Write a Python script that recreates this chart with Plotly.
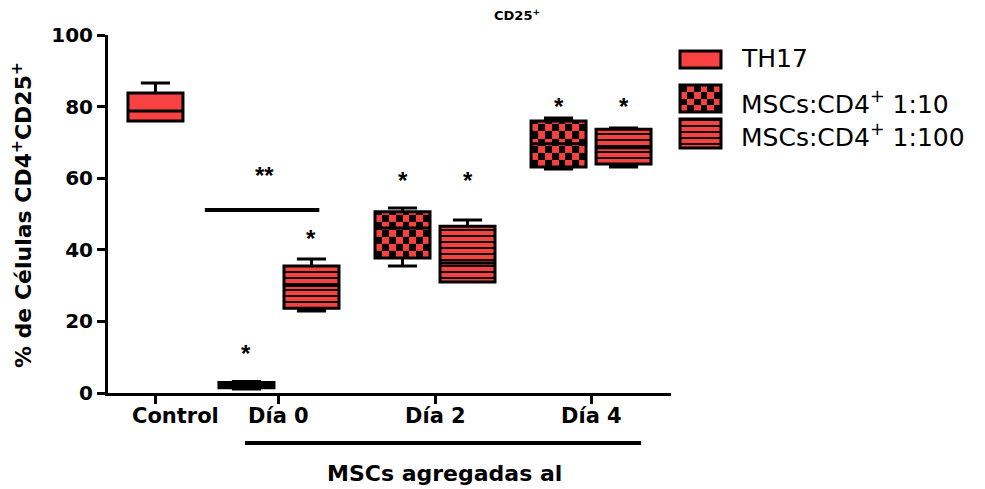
import numpy as np
import plotly.graph_objects as go

RED = "#F84141"
FONT = "DejaVu Sans"

# ---------------- data ----------------
day_labels = ["Día 0", "Día 2", "Día 4"]
day_centers = [1.9, 4.3, 6.7]
control_pos = 0.0
box_offset = 0.5
box_width = 0.846

control = dict(lf=76.0, q1=76.0, med=78.8, q3=83.8, uf=86.6)

r10_lf = [1.1, 35.5, 62.6]
r10_q1 = [1.5, 37.7, 63.1]
r10_med = [2.2, 46.1, 69.6]
r10_q3 = [2.9, 50.6, 76.0]
r10_uf = [3.2, 51.7, 76.8]

r100_lf = [22.9, 31.0, 63.1]
r100_q1 = [23.7, 31.0, 64.0]
r100_med = [30.0, 36.3, 68.5]
r100_q3 = [35.5, 46.6, 73.7]
r100_uf = [37.4, 48.3, 74.0]

star_y_r10 = [11.7, 60.0, 80.7]
star_y_r100 = [43.6, 60.0, 80.7]
sig_bar_x = [0.76, 2.52]
sig_bar_y = 51.1
sig_text_x = 1.67
sig_text_y = 61.2

pos10 = [c - box_offset for c in day_centers]
pos100 = [c + box_offset for c in day_centers]

fig = go.Figure()

# ---------------- checkerboard fills (heatmaps) ----------------
cell_y = 2.0
ncols = 8
for p, a, b in zip(pos10, r10_q1, r10_q3):
    xe = np.linspace(p - box_width / 2, p + box_width / 2, ncols + 1)
    ye = list(np.arange(a, b, cell_y))
    if b - ye[-1] > 0.05:
        ye.append(b)
    ye = np.array(ye)
    nrows = len(ye) - 1
    z = [[(i + j) % 2 for j in range(ncols)] for i in range(nrows)]
    if nrows == 1:
        z = [[0] * ncols]
    fig.add_trace(go.Heatmap(x=xe, y=ye, z=z, zmin=0, zmax=1,
                             colorscale=[[0, "black"], [1, RED]],
                             showscale=False, hoverinfo="skip"))

# legend checker swatch
lx = np.linspace(680, 721, 7)
ly = np.linspace(85, 112, 5)
fig.add_trace(go.Heatmap(x=lx, y=ly, z=[[(i + j) % 2 for j in range(6)] for i in range(4)],
                         zmin=0, zmax=1, colorscale=[[0, "black"], [1, RED]],
                         showscale=False, hoverinfo="skip", xaxis="x2", yaxis="y2"))

# ---------------- striped fills (bars with pattern) ----------------
fig.add_trace(go.Bar(
    x=pos100, base=r100_q1, y=[b - a for a, b in zip(r100_q1, r100_q3)],
    width=box_width, marker=dict(color=RED, line=dict(width=0),
                                 pattern=dict(shape="-", fgcolor="black", bgcolor=RED,
                                              size=6, solidity=0.32, fillmode="replace")),
    hoverinfo="skip", showlegend=False))

# legend swatches as bars on legend axes
fig.add_trace(go.Bar(x=[700.5], base=[51], y=[17], width=41,
                     marker=dict(color=RED, line=dict(color="black", width=3)),
                     xaxis="x2", yaxis="y2", hoverinfo="skip", showlegend=False))
fig.add_trace(go.Bar(x=[700.5], base=[85], y=[27], width=41,
                     marker=dict(color="rgba(0,0,0,0)", line=dict(color="black", width=3)),
                     xaxis="x2", yaxis="y2", hoverinfo="skip", showlegend=False))
fig.add_trace(go.Bar(x=[700.5], base=[119], y=[29], width=41,
                     marker=dict(color=RED, line=dict(color="black", width=3),
                                 pattern=dict(shape="-", fgcolor="black", bgcolor=RED,
                                              size=6, solidity=0.32, fillmode="replace")),
                     xaxis="x2", yaxis="y2", hoverinfo="skip", showlegend=False))

# ---------------- boxes ----------------
box_common = dict(width=box_width, whiskerwidth=0.53, line=dict(color="black", width=3),
                  hoverinfo="skip", showlegend=False, boxpoints=False)
fig.add_trace(go.Box(x=[control_pos], q1=[control["q1"]], median=[control["med"]],
                     q3=[control["q3"]], lowerfence=[control["lf"]], upperfence=[control["uf"]],
                     fillcolor=RED, **box_common))
fig.add_trace(go.Box(x=pos10, q1=r10_q1, median=r10_med, q3=r10_q3,
                     lowerfence=r10_lf, upperfence=r10_uf,
                     fillcolor="rgba(0,0,0,0)", **box_common))
fig.add_trace(go.Box(x=pos100, q1=r100_q1, median=r100_med, q3=r100_q3,
                     lowerfence=r100_lf, upperfence=r100_uf,
                     fillcolor="rgba(0,0,0,0)", **box_common))

# significance bar
fig.add_trace(go.Scatter(x=sig_bar_x, y=[sig_bar_y, sig_bar_y], mode="lines",
                         line=dict(color="black", width=4), hoverinfo="skip", showlegend=False))

annotations = []
star_font = dict(family="Liberation Sans", size=24, color="black", weight="bold")
for x, y in list(zip(pos10, star_y_r10)) + list(zip(pos100, star_y_r100)):
    annotations.append(dict(x=x, y=y, xref="x", yref="y", text="*", showarrow=False,
                            xanchor="center", yanchor="middle", yshift=-2, font=star_font))
annotations.append(dict(x=sig_text_x, y=sig_text_y, xref="x", yref="y", text="**",
                        xanchor="center", yanchor="middle",
                        showarrow=False, yshift=-2, font=star_font))

bold = dict(family=FONT, size=21, color="black")
# x labels
annotations.append(dict(x=0.315, y=-0.064, xref="x", yref="paper", text="<b>Control</b>",
                        xanchor="center", yanchor="middle", showarrow=False, font=bold))
for c, lab in zip(day_centers, day_labels):
    annotations.append(dict(x=c, y=-0.064, xref="x", yref="paper", text="<b>%s</b>" % lab,
                            xanchor="center", yanchor="middle", showarrow=False, font=bold))
annotations.append(dict(x=4.45, y=-0.226, xref="x", yref="paper", text="<b>MSCs agregadas al</b>",
                        xanchor="center", yanchor="middle", showarrow=False,
                        font=dict(family=FONT, size=22, color="black")))
# y title
annotations.append(dict(x=-0.0986, y=0.497, xref="paper", yref="paper", xanchor="center",
                        yanchor="middle",
                        text="<b>% de Células CD4<sup>+</sup>CD25<sup>+</sup></b>", textangle=-90,
                        showarrow=False, font=dict(family=FONT, size=22, color="black")))
# title
annotations.append(dict(x=(517 - 108) / 872, y=(393 - 15) / 358, xref="paper", yref="paper",
                        xanchor="center", yanchor="middle",
                        text="<b>CD25<sup>+</sup></b>", showarrow=False,
                        font=dict(family=FONT, size=13, color="black")))
# legend texts
for txt, py in [("TH17", 58), ("MSCs:CD4<sup>+</sup> 1:10", 102), ("MSCs:CD4<sup>+</sup> 1:100", 135)]:
    annotations.append(dict(x=(739 - 108) / 872, y=(393 - py) / 358, xref="paper", yref="paper",
                            xanchor="left", yanchor="middle", text=txt, showarrow=False,
                            font=dict(family=FONT, size=25, color="black")))

shapes = [dict(type="line", xref="x", yref="paper", x0=1.377, x1=7.47, y0=-0.14, y1=-0.14,
               line=dict(color="black", width=4))]

fig.update_layout(
    width=977, height=481,
    margin=dict(l=100, r=5, t=27, b=96),
    plot_bgcolor="white", paper_bgcolor="white",
    showlegend=False, barmode="overlay", boxmode="overlay",
    font=dict(family=FONT, color="black"),
    xaxis=dict(domain=[0, 563 / 872], range=[-0.73, 7.93], showgrid=False, zeroline=False,
               showline=True, linecolor="black", linewidth=3,
               tickmode="array", tickvals=[control_pos] + day_centers, ticktext=[""] * 4,
               ticks="outside", ticklen=8, tickwidth=3, tickcolor="black"),
    yaxis=dict(range=[0, 100], showgrid=False, zeroline=False, showline=True,
               linecolor="black", linewidth=3, tickvals=[0, 20, 40, 60, 80, 100],
               ticks="outside", ticklen=8, tickwidth=3, tickcolor="black",
               tickfont=dict(family=FONT, size=20, color="black", weight="bold")),
    xaxis2=dict(domain=[(676 - 108) / 872, (725 - 108) / 872], range=[676, 725],
                anchor="y2", visible=False, fixedrange=True),
    yaxis2=dict(domain=[(393 - 155) / 358, (393 - 45) / 358], range=[155, 45],
                anchor="x2", visible=False, fixedrange=True),
    annotations=annotations, shapes=shapes,
)

fig.write_html("out.html")
